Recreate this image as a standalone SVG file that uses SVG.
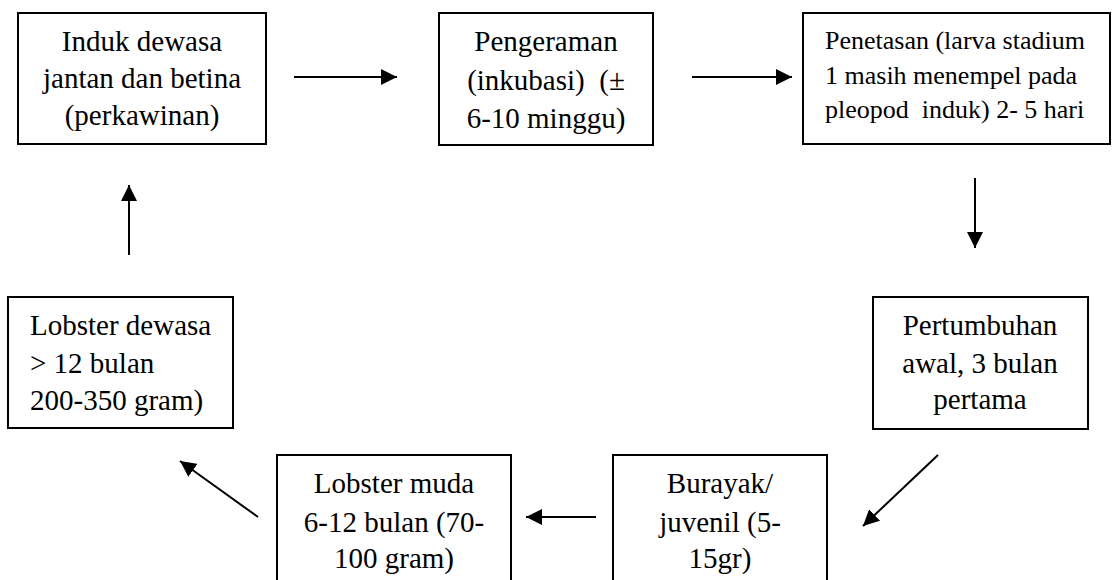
<svg xmlns="http://www.w3.org/2000/svg" width="1112" height="580" viewBox="0 0 1112 580">
<style>
.box{fill:#fff;stroke:#000;stroke-width:2}
text{font-family:'Liberation Serif','Times New Roman',serif;font-size:29px;fill:#000}
.c{text-anchor:middle}
.s{font-size:26px}
.arr{stroke:#000;stroke-width:2;fill:none;marker-end:url(#ah)}
</style>
<defs>
<marker id="ah" markerUnits="userSpaceOnUse" markerWidth="18" markerHeight="16" refX="16" refY="8" orient="auto">
<path d="M0,0 L16,8 L0,16 Z" fill="#000"/>
</marker>
</defs>
<rect width="1112" height="580" fill="#fff"/>
<g id="n1">
<rect class="box" x="18" y="13" width="248" height="131"/>
<text class="c" x="142" y="51">Induk dewasa</text>
<text class="c" x="142" y="88">jantan dan betina</text>
<text class="c" x="142" y="125">(perkawinan)</text>
</g>
<g id="n2">
<rect class="box" x="439" y="13" width="214" height="132"/>
<text class="c" x="546" y="51">Pengeraman</text>
<text class="c" x="546" y="90" xml:space="preserve">(inkubasi)  (±</text>
<text class="c" x="546" y="128">6-10 minggu)</text>
</g>
<g id="n3">
<rect class="box" x="803" y="13" width="307" height="131"/>
<text class="s" x="825" y="49">Penetasan (larva stadium</text>
<text class="s" x="825" y="84">1 masih menempel pada</text>
<text class="s" x="825" y="118" xml:space="preserve">pleopod  induk) 2- 5 hari</text>
</g>
<g id="n4">
<rect class="box" x="873" y="297" width="215" height="132"/>
<text class="c" x="980" y="335">Pertumbuhan</text>
<text class="c" x="980" y="373">awal, 3 bulan</text>
<text class="c" x="980" y="409">pertama</text>
</g>
<g id="n5">
<rect class="box" x="613" y="455" width="214" height="140"/>
<text class="c" x="720" y="493">Burayak/</text>
<text class="c" x="720" y="532">juvenil (5-</text>
<text class="c" x="720" y="568">15gr)</text>
</g>
<g id="n6">
<rect class="box" x="277" y="455" width="234" height="140"/>
<text class="c" x="394" y="493">Lobster muda</text>
<text class="c" x="394" y="532">6-12 bulan (70-</text>
<text class="c" x="394" y="568">100 gram)</text>
</g>
<g id="n7">
<rect class="box" x="8" y="297" width="225" height="131"/>
<text x="30" y="335">Lobster dewasa</text>
<text x="30" y="373">&gt; 12 bulan</text>
<text x="30" y="410">200-350 gram)</text>
</g>
<g id="connectors">
<line class="arr" x1="294" y1="77" x2="397" y2="77"/>
<line class="arr" x1="692" y1="77" x2="792" y2="77"/>
<line class="arr" x1="975" y1="178" x2="975" y2="248"/>
<line class="arr" x1="938" y1="455" x2="863" y2="526"/>
<line class="arr" x1="596" y1="517" x2="526" y2="517"/>
<line class="arr" x1="258" y1="517" x2="180" y2="461"/>
<line class="arr" x1="129" y1="255" x2="129" y2="185"/>
</g>
</svg>
